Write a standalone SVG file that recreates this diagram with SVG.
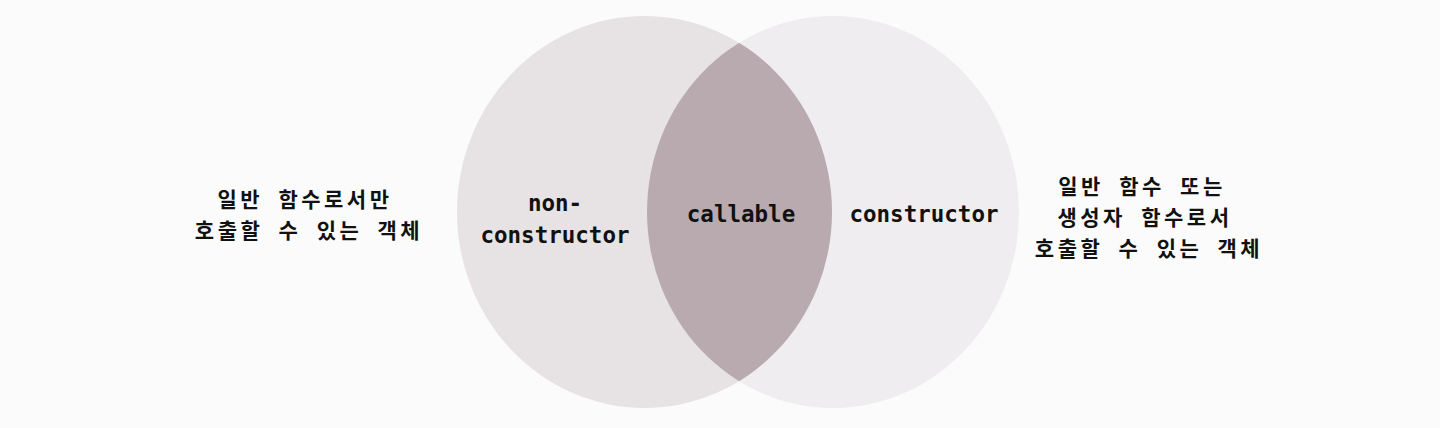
<svg xmlns="http://www.w3.org/2000/svg" width="1440" height="428" viewBox="0 0 1440 428">
<style>
.bg{fill:#fbfbfb}
.mono{font-family:"DejaVu Sans Mono","Liberation Mono",monospace;font-weight:bold;font-size:22.5px;fill:#111;text-anchor:middle}
.kr{font-family:"Noto Sans CJK KR","Noto Sans",sans-serif;font-weight:bold;font-size:21px;fill:#111;text-anchor:middle;letter-spacing:3.5px;word-spacing:7px}
</style>
<defs>
<clipPath id="clipL"><ellipse cx="644.5" cy="212" rx="187.5" ry="196"/></clipPath>
</defs>
<rect class="bg" x="0" y="0" width="1440" height="428"/>
<g id="circle-non-constructor">
<ellipse cx="644.5" cy="212" rx="187.5" ry="196" fill="#e7e3e5"/>
</g>
<g id="circle-constructor">
<ellipse cx="833" cy="212" rx="186" ry="196" fill="#efedef"/>
</g>
<g id="callable">
<ellipse cx="833" cy="212" rx="186" ry="196" fill="#b8aaaf" clip-path="url(#clipL)"/>
</g>
<g id="labels">
<text class="mono" x="555" y="211">non-</text>
<text class="mono" x="555" y="243">constructor</text>
<text class="mono" x="741" y="222">callable</text>
<text class="mono" x="924" y="222">constructor</text>
</g>
<g id="desc-left">
<text class="kr" x="305" y="207">일반 함수로서만</text>
<text class="kr" x="309" y="238">호출할 수 있는 객체</text>
</g>
<g id="desc-right">
<text class="kr" x="1142" y="194">일반 함수 또는</text>
<text class="kr" x="1145" y="225">생성자 함수로서</text>
<text class="kr" x="1149" y="256">호출할 수 있는 객체</text>
</g>
<g id="connectors"></g>
</svg>
